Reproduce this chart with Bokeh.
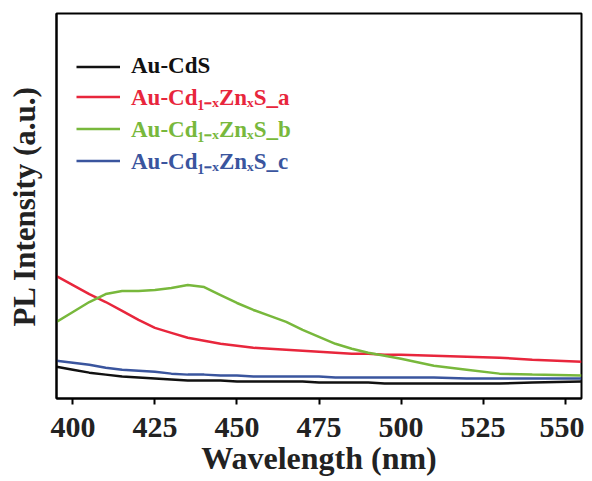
from bokeh.plotting import figure
from bokeh.models import FixedTicker, Legend, LegendItem
from bokeh.embed import file_html
from bokeh.resources import INLINE

wavelength = [395, 400, 405, 410, 415, 420, 425, 430, 435, 440, 445, 450, 455, 460,
              465, 470, 475, 480, 485, 490, 495, 500, 510, 520, 530, 540, 555]
au_cds = [32, 29, 26, 24, 22, 21, 20, 19, 18, 18, 18, 17, 17, 17,
          17, 17, 16, 16, 16, 16, 15, 15, 15, 15, 15, 16, 17]
au_czs_a = [123, 114, 105, 97, 88, 79, 71, 66, 61, 58, 55, 53, 51, 50,
            49, 48, 47, 46, 45, 45, 44, 44, 43, 42, 41, 39, 37]
au_czs_b = [77, 87, 97, 105, 108, 108, 109, 111, 114, 112, 104, 96, 89, 83,
            77, 69, 62, 55, 50, 46, 43, 40, 33, 29, 25, 24, 23]
au_czs_c = [38, 36, 34, 31, 29, 28, 27, 25, 24, 24, 23, 23, 22, 22,
            22, 22, 22, 21, 21, 21, 21, 21, 21, 20, 20, 20, 20]

x_ticks = [400, 425, 450, 475, 500, 525, 550]
labels = ["Au-CdS", "Au-Cd\u2081\u208b\u2093Zn\u2093S_a",
          "Au-Cd\u2081\u208b\u2093Zn\u2093S_b", "Au-Cd\u2081\u208b\u2093Zn\u2093S_c"]
colors = ["#111111", "#e8263c", "#78b83c", "#3a559e"]
series = [au_cds, au_czs_a, au_czs_b, au_czs_c]

FONT = "Liberation Serif"

p = figure(width=584, height=478, x_range=(395, 555), y_range=(0, 387),
           output_backend="svg", toolbar_location=None,
           min_border_left=56, min_border_right=3, min_border_top=13, min_border_bottom=78)

p.xgrid.visible = False
p.ygrid.visible = False
p.outline_line_color = "black"
p.outline_line_width = 2
p.background_fill_color = "white"
p.border_fill_color = "white"

renderers = []
for ys, c in zip(series, colors):
    r = p.line(wavelength, ys, line_color=c, line_width=2.5)
    renderers.append(r)

xa = p.xaxis[0]
xa.ticker = FixedTicker(ticks=x_ticks)
xa.major_tick_out = 6
xa.major_tick_in = 0
xa.minor_tick_out = 0
xa.minor_tick_in = 0
xa.major_tick_line_width = 2
xa.axis_line_width = 2
xa.major_label_text_font = FONT
xa.major_label_text_font_style = "bold"
xa.major_label_text_font_size = "30px"
xa.major_label_text_color = "#222222"
xa.major_label_standoff = 13
xa.axis_label = "Wavelength (nm)"
xa.axis_label_text_font = FONT
xa.axis_label_text_font_style = "bold"
xa.axis_label_text_font_size = "32px"
xa.axis_label_text_color = "#222222"
xa.axis_label_standoff = 0

ya = p.yaxis[0]
ya.ticker = FixedTicker(ticks=[])
ya.major_tick_out = 0
ya.major_tick_in = 0
ya.minor_tick_out = 0
ya.minor_tick_in = 0
ya.axis_line_width = 2
ya.axis_label = "PL Intensity (a.u.)"
ya.axis_label_text_font = FONT
ya.axis_label_text_font_style = "bold"
ya.axis_label_text_font_size = "31px"
ya.axis_label_text_color = "#222222"
ya.axis_label_standoff = 15

legend_y = [319, 286, 254, 222]
for lab, r, c, ly in zip(labels, renderers, colors, legend_y):
    lg = Legend(items=[LegendItem(label=lab, renderers=[r])], location=(20, ly),
                border_line_color=None, background_fill_alpha=0,
                padding=0, margin=0, spacing=0,
                glyph_width=44, glyph_height=25, label_height=25,
                label_standoff=11,
                label_text_font=FONT, label_text_font_style="bold",
                label_text_font_size="23px", label_text_color=c)
    p.add_layout(lg)

open("out.html", "w").write(file_html(p, INLINE))
